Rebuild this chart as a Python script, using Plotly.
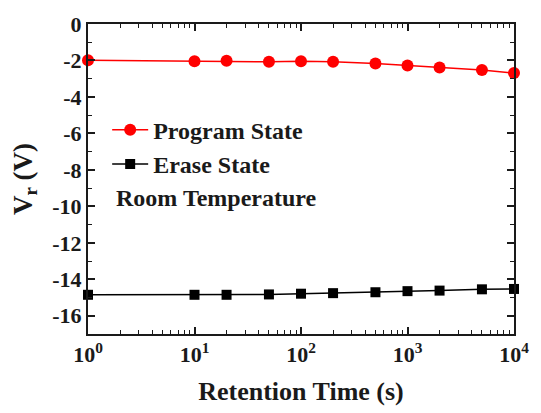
import plotly.graph_objects as go

time_s = [1, 10, 20, 50, 100, 200, 500, 1000, 2000, 5000, 10000]
program_vr = [-1.99, -2.04, -2.02, -2.07, -2.04, -2.07, -2.16, -2.27, -2.39, -2.52, -2.69]
erase_vr = [-14.85, -14.85, -14.85, -14.83, -14.79, -14.76, -14.71, -14.65, -14.62, -14.55, -14.53]

x_tickvals = [1, 10, 100, 1000, 10000]
x_ticktext = ["10<sup>0</sup>", "10<sup>1</sup>", "10<sup>2</sup>", "10<sup>3</sup>", "10<sup>4</sup>"]
y_tickvals = [0, -2, -4, -6, -8, -10, -12, -14, -16]
y_ticktext = [str(v) for v in y_tickvals]

FONT = "Liberation Serif"
INK = "#1a1a1a"

def fnt(size):
    return dict(family=FONT, size=size, color=INK, weight="bold")

fig = go.Figure()
fig.add_trace(go.Scatter(
    x=time_s, y=program_vr, mode="lines+markers", name="Program State",
    line=dict(color="#ff0000", width=1.5),
    marker=dict(symbol="circle", size=12, color="#ff0000"),
    cliponaxis=False,
))
fig.add_trace(go.Scatter(
    x=time_s, y=erase_vr, mode="lines+markers", name="Erase State",
    line=dict(color="#000000", width=1.5),
    marker=dict(symbol="square", size=10, color="#000000"),
    cliponaxis=False,
))
# invisible helper trace so the mirrored (top/right) axes with minor ticks are drawn
fig.add_trace(go.Scatter(
    x=time_s, y=program_vr, xaxis="x2", yaxis="y2", mode="markers",
    marker=dict(opacity=0), showlegend=False, hoverinfo="skip",
))

fig.add_annotation(
    x=0.062, y=0.44, xref="paper", yref="paper", xanchor="left", yanchor="middle",
    text="Room Temperature", showarrow=False, font=fnt(24),
)

axis_common = dict(
    ticks="inside", ticklen=7, tickwidth=1.5, tickcolor=INK,
    showline=True, linewidth=2, linecolor=INK,
    showgrid=False, zeroline=False,
)
minor_x = dict(ticks="inside", ticklen=4, tickwidth=1.2, tickcolor=INK, dtick="D1", showgrid=False)
minor_y = dict(ticks="inside", ticklen=4, tickwidth=1.2, tickcolor=INK, dtick=1, showgrid=False)

fig.update_layout(
    width=541, height=413,
    margin=dict(l=88, r=21, t=13, b=78),
    paper_bgcolor="white", plot_bgcolor="white",
    font=dict(family=FONT, color=INK),
    showlegend=True,
    legend=dict(
        x=0.045, y=0.73, xanchor="left", yanchor="top",
        bgcolor="rgba(0,0,0,0)", font=fnt(24),
        itemwidth=36, tracegroupgap=0,
    ),
    xaxis=dict(
        type="log", range=[0, 4],
        tickvals=x_tickvals, ticktext=x_ticktext,
        tickfont=fnt(22), minor=minor_x,
        title=dict(text="Retention Time (s)", font=fnt(26), standoff=15),
        **axis_common,
    ),
    xaxis2=dict(
        type="log", range=[0, 4], overlaying="x", side="top", anchor="y",
        tickvals=x_tickvals, showticklabels=False, minor=minor_x,
        **axis_common,
    ),
    yaxis=dict(
        range=[-17, 0],
        tickvals=y_tickvals, ticktext=y_ticktext,
        tickfont=fnt(22), minor=minor_y,
        title=dict(text="V<sub>r</sub> (V)", font=fnt(27), standoff=12),
        **axis_common,
    ),
    yaxis2=dict(
        range=[-17, 0], overlaying="y", side="right", anchor="x",
        tickvals=y_tickvals, showticklabels=False, minor=minor_y,
        **axis_common,
    ),
)

fig.write_html("out.html")
